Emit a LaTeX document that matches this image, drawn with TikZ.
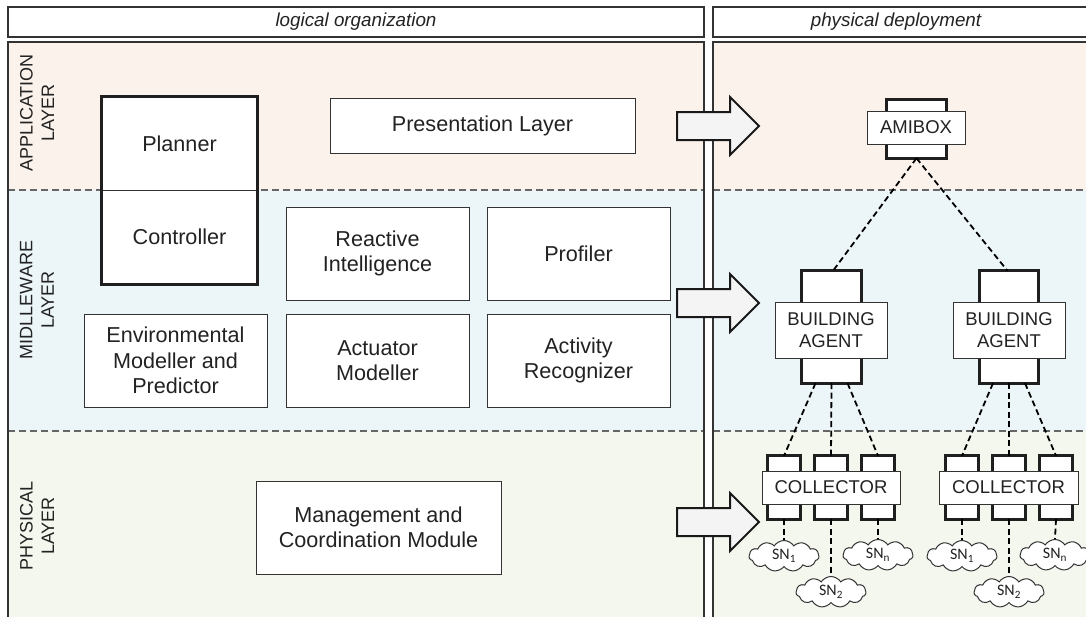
\documentclass[tikz,border=0pt]{standalone}
\usepackage{fontspec}
\setmainfont{Liberation Sans}
\newfontfamily\snfont{Carlito}
\usetikzlibrary{calc,shapes.symbols}
\definecolor{txt}{HTML}{222222}
\definecolor{bord}{HTML}{333333}
\definecolor{appbg}{HTML}{FBF2EC}
\definecolor{midbg}{HTML}{ECF5F8}
\definecolor{phybg}{HTML}{F3F7ED}
\definecolor{arrfill}{HTML}{F4F4F4}
\tikzset{
  box/.style={draw=bord, line width=1pt, fill=white, inner sep=0pt, align=center, text=txt,
    font=\fontsize{21.6}{25.5}\selectfont},
  hdr/.style={draw=bord, line width=1.4pt, fill=white},
  hdrtext/.style={text=txt, font=\fontsize{18.8}{22}\selectfont\itshape},
  layerlbl/.style={rotate=90, align=center, text=txt, inner sep=0pt, font=\fontsize{18}{21.5}\selectfont},
  tallbox/.style={draw=none, fill=none, inner sep=0pt},
  thickline/.style={draw=black!88, line width=3pt, fill=white},
  devbox/.style={draw=bord, line width=1pt, fill=white, inner sep=0pt, align=center, text=txt,
    font=\fontsize{18.5}{22}\selectfont},
  sep/.style={draw=black!60, line width=1.3pt, dash pattern=on 7pt off 4pt},
  conn/.style={draw=black, line width=1.8pt, dash pattern=on 6pt off 3.5pt},
  bigarrow/.style={draw=black!90, line width=2pt, fill=arrfill, line join=miter},
  sn/.style={cloud, cloud puffs=11, cloud puff arc=115, aspect=2.4, draw=bord, line width=1pt,
    fill=white, minimum width=70pt, minimum height=31pt, inner sep=0pt, text=txt,
    font=\snfont\fontsize{16}{18}\selectfont},
}
\begin{document}
\begin{tikzpicture}[x=1pt,y=-1pt]
\useasboundingbox (0,0) rectangle (1086,616);
% layer backgrounds
\fill[appbg] (8,42) rectangle (704,190);
\fill[midbg] (8,190) rectangle (704,431);
\fill[phybg] (8,431) rectangle (704,630);
\fill[appbg] (713,42) rectangle (1095,190);
\fill[midbg] (713,190) rectangle (1095,431);
\fill[phybg] (713,431) rectangle (1095,630);
% separators
\draw[sep] (8,190) -- (704,190);
\draw[sep] (8,431) -- (704,431);
\draw[sep] (713,190) -- (1095,190);
\draw[sep] (713,431) -- (1095,431);
% panel borders
\draw[draw=bord, line width=1.4pt] (8,630) -- (8,42) -- (704,42) -- (704,630);
\draw[draw=bord, line width=1.4pt] (713,630) -- (713,42) -- (1095,42);
% headers
\draw[hdr] (8,7) rectangle (704,37);
\draw[hdr] (713,7) rectangle (1095,37);
\node[hdrtext] (hl) at (356,22) {logical organization};
\node[hdrtext] (hp) at (896,22) {physical deployment};
% layer labels
\node[layerlbl] (lapp) at (37,113) {APPLICATION\\LAYER};
\node[layerlbl] (lmid) at (37,300) {MIDLLEWARE\\LAYER};
\node[layerlbl] (lphy) at (37,526) {PHYSICAL\\LAYER};
% logical boxes
\node[box, draw=none, minimum width=155pt, minimum height=93pt] (planner) at (179.5,143.5) {Planner};
\node[box, draw=none, minimum width=155pt, minimum height=94pt] (controller) at (179.5,237) {Controller};
\draw[draw=bord, line width=1.3pt] (planner.south west) -- (planner.south east);
\draw[draw=black!88, line width=3pt] (planner.north west) rectangle (controller.south east);
\node[box, minimum width=305pt, minimum height=55pt] (pres) at (482.5,125.5) {Presentation Layer};
\node[box, minimum width=183pt, minimum height=93pt] (react) at (377.5,253.5) {Reactive\\Intelligence};
\node[box, minimum width=183pt, minimum height=93pt] (prof) at (578.5,253.5) {Profiler};
\node[box, minimum width=183pt, minimum height=93pt] (env) at (175.5,360.5) {Environmental\\Modeller and\\Predictor};
\node[box, minimum width=183pt, minimum height=93pt] (act) at (377.5,360.5) {Actuator\\Modeller};
\node[box, minimum width=183pt, minimum height=93pt] (rec) at (578.5,360.5) {Activity\\Recognizer};
\node[box, minimum width=245pt, minimum height=93pt] (mgmt) at (378.5,527.5) {Management and\\Coordination Module};
% big arrows
\foreach \ty in {126,303,522}{
  \draw[bigarrow] (677,\ty-14) -- (730,\ty-14) -- (730,\ty-29) -- (759,\ty) -- (730,\ty+29) -- (730,\ty+14) -- (677,\ty+14) -- cycle;
}
% AMIBOX
\node[tallbox, minimum width=59pt, minimum height=58pt] (amiT) at (916.5,129) {};
\draw[thickline] (amiT.north west) rectangle (amiT.south east);
\node[devbox, minimum width=98pt, minimum height=33pt] (ami) at (916,127.5) {AMIBOX};
% building agents
\node[tallbox, minimum width=59pt, minimum height=112pt] (ba1T) at (831.5,327) {};
\draw[thickline] (ba1T.north west) rectangle (ba1T.south east);
\node[devbox, minimum width=112pt, minimum height=56pt] (ba1) at (831,330) {BUILDING\\AGENT};
\node[tallbox, minimum width=58pt, minimum height=112pt] (ba2T) at (1009,327) {};
\draw[thickline] (ba2T.north west) rectangle (ba2T.south east);
\node[devbox, minimum width=112pt, minimum height=56pt] (ba2) at (1009,330) {BUILDING\\AGENT};
% collectors
\foreach \n/\cx in {a/784,b/831,c/878,d/962,e/1009,f/1056}{
  \node[tallbox, minimum width=32pt, minimum height=63pt] (k\n) at (\cx,487.5) {};
  \draw[thickline] (k\n.north west) rectangle (k\n.south east);
}
\node[devbox, minimum width=138pt, minimum height=33pt] (col1) at (831,487.5) {COLLECTOR};
\node[devbox, minimum width=139pt, minimum height=33pt] (col2) at (1008.5,487.5) {COLLECTOR};
% sensor clouds
\node[sn] (s1a) at (784,556) {SN\textsubscript{1}};
\node[sn] (s2a) at (831,592) {SN\textsubscript{2}};
\node[sn] (sna) at (878,555) {SN\textsubscript{n}};
\node[sn] (s1b) at (962,556) {SN\textsubscript{1}};
\node[sn] (s2b) at (1009,592) {SN\textsubscript{2}};
\node[sn] (snb) at (1055,555) {SN\textsubscript{n}};
% connectors
\draw[conn] (amiT.south) -- ($(ba1T.north)+(1.5,0)$);
\draw[conn] (amiT.south) -- ($(ba2T.north)+(-1.5,0)$);
\draw[conn] ($(ba1T.south)+(-16,0)$) -- (ka.north);
\draw[conn] (ba1T.south) -- (kb.north);
\draw[conn] ($(ba1T.south)+(16,0)$) -- (kc.north);
\draw[conn] ($(ba2T.south)+(-16,0)$) -- (kd.north);
\draw[conn] (ba2T.south) -- (ke.north);
\draw[conn] ($(ba2T.south)+(16,0)$) -- (kf.north);
\draw[conn] (ka.south) -- (s1a.north);
\draw[conn] (kb.south) -- (s2a.north);
\draw[conn] (kc.south) -- (sna.north);
\draw[conn] (kd.south) -- (s1b.north);
\draw[conn] (ke.south) -- (s2b.north);
\draw[conn] (kf.south) -- (snb.north);
\end{tikzpicture}
\end{document}
